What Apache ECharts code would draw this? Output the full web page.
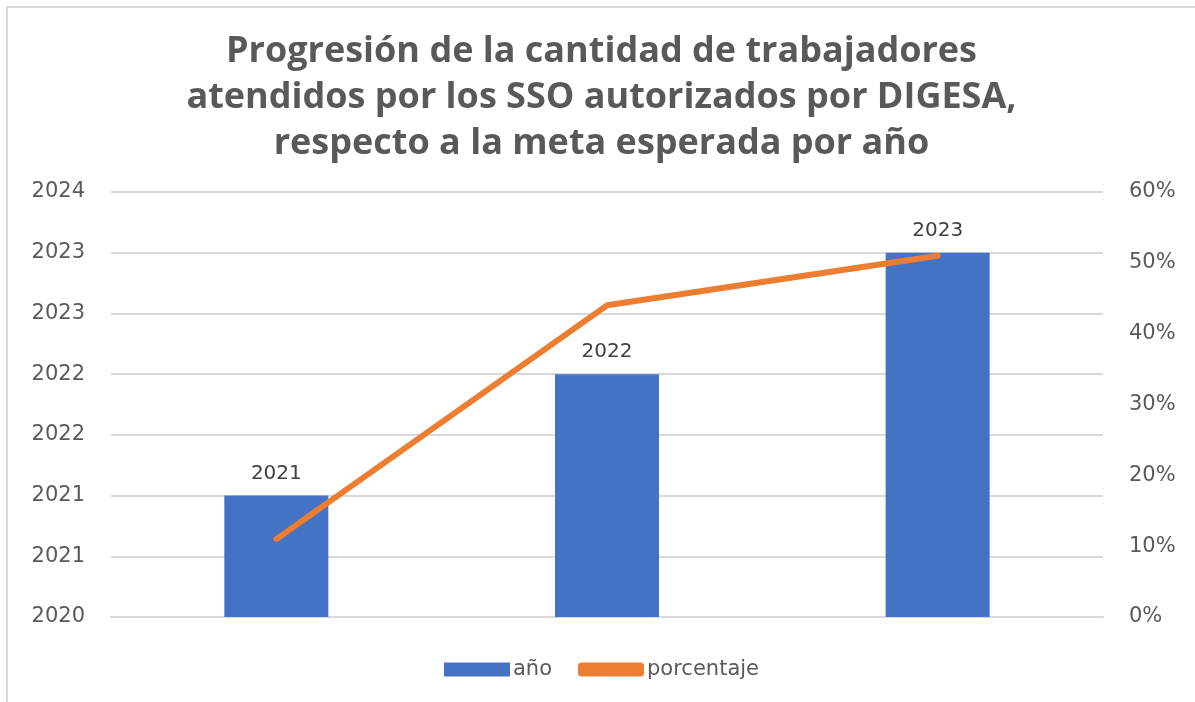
<!DOCTYPE html>
<html>
<head>
<meta charset="utf-8">
<script src="https://cdn.jsdelivr.net/npm/echarts@6/dist/echarts.min.js"></script>
<style>
  html, body { margin: 0; padding: 0; background: #fff; }
  #chart {
    box-sizing: border-box;
    border-left: 2px solid #d9d9d9;
    border-top: 2px solid #d9d9d9;
    margin-left: 6px;
    margin-top: 6px;
    width: 1189px;
    height: 696px;
  }
</style>
</head>
<body>
<div id="chart"></div>
<script>
// datos
var categories = ["2021", "2022", "2023"];
var anio = [2021, 2022, 2023];
var porcentaje = [0.11, 0.44, 0.51];

var chart = echarts.init(document.getElementById("chart"));

var option = {
  animation: false,
  title: {
    text: "Progresión de la cantidad de trabajadores\natendidos por los SSO autorizados por DIGESA,\nrespecto a la meta esperada por año",
    left: "center",
    top: 16,
    textStyle: {
      fontFamily: "Open Sans",
      fontWeight: "bold",
      fontSize: 36,
      lineHeight: 46,
      color: "#595959"
    }
  },
  grid: {
    left: 103,
    right: 92,
    top: 184,
    bottom: 85
  },
  legend: {
    bottom: 17,
    left: "center",
    itemGap: 26,
    textStyle: { fontFamily: "DejaVu Sans", fontSize: 21, color: "#595959", padding: [0, 0, 0, -2] },
    data: [
      { name: "año", icon: "rect", itemStyle: { color: "#4472C4" } },
      { name: "porcentaje", icon: "roundRect" }
    ],
    itemWidth: 66,
    itemHeight: 14
  },
  xAxis: {
    type: "category",
    data: categories,
    axisLine: { show: true, lineStyle: { color: "#d9d9d9", width: 2 } },
    axisTick: { show: false },
    axisLabel: { show: false }
  },
  yAxis: [
    {
      type: "value",
      min: 2020,
      max: 2023.5,
      interval: 0.5,
      axisLine: { show: false },
      axisTick: { show: false },
      splitLine: { lineStyle: { color: "#d9d9d9", width: 2 } },
      axisLabel: {
        fontFamily: "DejaVu Sans",
        fontSize: 21,
        color: "#595959",
        margin: 26,
        formatter: function (v) { return String(Math.round(v)); }
      }
    },
    {
      type: "value",
      min: 0,
      max: 0.6,
      interval: 0.1,
      axisLine: { show: false },
      axisTick: { show: false },
      splitLine: { show: false },
      axisLabel: {
        fontFamily: "DejaVu Sans",
        fontSize: 21,
        color: "#595959",
        margin: 26,
        formatter: function (v) { return Math.round(v * 100) + "%"; }
      }
    }
  ],
  series: [
    {
      name: "año",
      type: "bar",
      yAxisIndex: 0,
      data: anio,
      barWidth: 104,
      itemStyle: { color: "#4472C4" },
      label: {
        show: true,
        position: "top",
        distance: 12,
        fontFamily: "DejaVu Sans",
        fontSize: 20,
        color: "#404040"
      }
    },
    {
      name: "porcentaje",
      type: "line",
      yAxisIndex: 1,
      data: porcentaje,
      symbol: "none",
      lineStyle: { color: "#ED7D31", width: 6, cap: "round" },
      itemStyle: { color: "#ED7D31" }
    }
  ]
};

chart.setOption(option);
</script>
</body>
</html>
